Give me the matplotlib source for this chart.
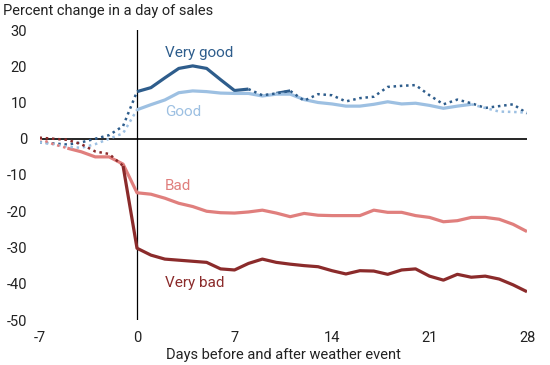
import numpy as np
import matplotlib
matplotlib.use("Agg")
import matplotlib.pyplot as plt

plt.rcParams['font.family'] = ['Roboto', 'DejaVu Sans']

days = list(range(-7, 29))

very_good = [-1.0, -1.3, -1.6, -1.0, 0.0, 1.0, 3.5, 13.0, 14.1, 16.8, 19.4, 20.1, 19.4, 16.3,
             13.3, 13.7, 12.0, 12.5, 13.2, 10.5, 12.3, 12.0, 10.3, 11.2, 11.6, 14.3, 14.6, 14.8,
             12.0, 9.5, 10.8, 9.8, 8.5, 9.0, 9.5, 7.0]
good = [-1.0, -1.5, -2.2, -2.5, -1.5, 0.0, 1.5, 8.0, 9.4, 10.7, 12.7, 13.2, 13.0, 12.6,
        12.5, 12.5, 11.8, 12.3, 12.3, 10.8, 10.0, 9.6, 9.0, 9.0, 9.5, 10.2, 9.6, 9.8,
        9.2, 8.4, 9.0, 9.5, 8.5, 7.5, 7.4, 7.2]
bad = [0.0, -1.5, -2.6, -3.6, -5.0, -5.0, -7.0, -14.9, -15.3, -16.4, -17.8, -18.7, -20.0, -20.4,
       -20.5, -20.2, -19.7, -20.5, -21.5, -20.6, -21.1, -21.2, -21.2, -21.2, -19.7, -20.3, -20.3, -21.2,
       -21.7, -22.9, -22.6, -21.7, -21.7, -22.2, -23.6, -25.6]
very_bad = [0.3, 0.0, -0.3, -1.5, -3.5, -4.2, -7.5, -30.2, -32.1, -33.2, -33.5, -33.8, -34.1, -35.9,
            -36.2, -34.4, -33.2, -34.1, -34.6, -35.0, -35.3, -36.4, -37.3, -36.4, -36.5, -37.4, -36.2, -35.9,
            -37.9, -39.0, -37.4, -38.2, -37.9, -38.7, -40.3, -42.2]

# days with statistically significant estimates (drawn solid)
sig_very_good = list(range(0, 9)) + [10, 11]
sig_good = list(range(0, 25))
sig_bad = list(range(-5, 29))
sig_very_bad = list(range(-1, 29))

labels = ["Very good", "Good", "Bad", "Very bad"]
colors = ["#2e5d8c", "#9dc0e2", "#e07f7d", "#8b2b2b"]
label_pos = [(2.0, 23.6), (2.0, 7.3), (2.0, -13.0), (2.0, -39.8)]

x_ticks = [-7, 0, 7, 14, 21, 28]
y_ticks = [30, 20, 10, 0, -10, -20, -30, -40, -50]

fig = plt.figure(figsize=(5.5, 3.65), dpi=100)
ax = fig.add_axes([39.5 / 550, 1 - 320 / 365, (527 - 39.5) / 550, 290 / 365])

x = np.array(days, dtype=float)
series = [very_good, good, bad, very_bad]
sigs = [sig_very_good, sig_good, sig_bad, sig_very_bad]

ax.axhline(0, color="black", lw=1.2, zorder=1)
ax.axvline(0, color="black", lw=0.9, zorder=1)

for vals, sig, col in zip(series, sigs, colors):
    v = np.array(vals, dtype=float)
    flag = np.array([d in sig for d in days])
    seg_solid = flag[:-1] & flag[1:]
    solid = np.full_like(v, np.nan)
    dotted = np.full_like(v, np.nan)
    for i in range(len(v)):
        left = seg_solid[i - 1] if i > 0 else None
        right = seg_solid[i] if i < len(v) - 1 else None
        if left or right:
            solid[i] = v[i]
        if (left is not None and not left) or (right is not None and not right):
            dotted[i] = v[i]
    ax.plot(x, dotted, color=col, lw=1.8, linestyle=(0, (1, 1.5)), zorder=3)
    ax.plot(x, solid, color=col, lw=2.3, solid_capstyle="butt", zorder=2)

for lab, (lx, ly), col in zip(labels, label_pos, colors):
    ax.text(lx, ly, lab, color=col, fontsize=11, ha="left", va="center")

ax.set_xlim(-7, 28)
ax.set_ylim(-50, 30)
ax.set_xticks(x_ticks)
ax.set_xticklabels([str(t) for t in x_ticks])
ax.set_yticks(y_ticks)
ax.set_yticklabels([str(t) for t in y_ticks])
ax.tick_params(axis="both", length=0, labelsize=10.5, colors="#222222")
ax.tick_params(axis="x", pad=8)
ax.tick_params(axis="y", pad=9)
for s in ax.spines.values():
    s.set_visible(False)
ax.set_xlabel("Days before and after weather event", fontsize=10.5, color="#222222", labelpad=2)
fig.text(3 / 550, 1 - 11 / 365, "Percent change in a day of sales", fontsize=10.5,
         color="#222222", ha="left", va="center")

fig.savefig("out.png", dpi=100)
